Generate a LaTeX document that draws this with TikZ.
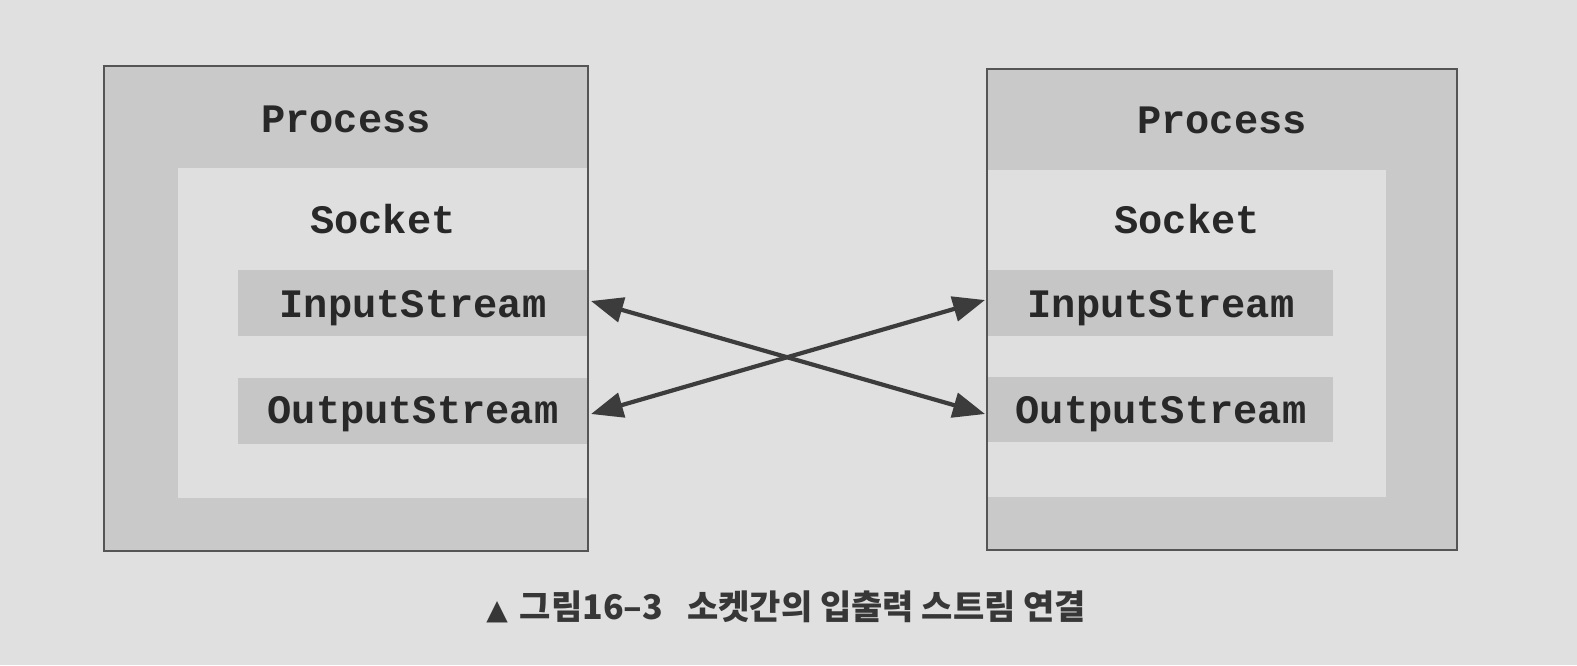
\documentclass[tikz,border=0pt]{standalone}
\usepackage{fontspec}
\setmonofont{Liberation Mono}
\newfontfamily\krfont{Noto Sans CJK KR}
\newfontfamily\symfont{DejaVu Sans}
\usetikzlibrary{arrows.meta}
\definecolor{page}{RGB}{224,224,224}
\definecolor{procfill}{RGB}{201,201,201}
\definecolor{sockfill}{RGB}{223,223,223}
\definecolor{bandfill}{RGB}{198,198,198}
\definecolor{edge}{RGB}{85,85,85}
\definecolor{ink}{RGB}{40,40,40}
\definecolor{arrowcol}{RGB}{60,60,60}
\definecolor{capcol}{RGB}{55,55,55}
\tikzset{
  procbox/.style={fill=procfill, draw=none, inner sep=0pt, outer sep=0pt},
  sockbox/.style={fill=sockfill, draw=none, inner sep=0pt, outer sep=0pt},
  bandbox/.style={fill=bandfill, draw=none, inner sep=0pt, outer sep=0pt},
  boxedge/.style={draw=edge, line width=0.8pt},
  lbl/.style={text=ink, inner sep=0pt, anchor=base, font=\fontsize{20.2pt}{24pt}\ttfamily\bfseries},
  conn/.style={draw=arrowcol, line width=2.1pt,
    {Triangle[length=16pt,width=12.5pt]}-{Triangle[length=16pt,width=12.5pt]}},
  captext/.style={text=capcol, inner sep=0pt, anchor=base west, font=\fontsize{17pt}{20pt}\krfont\bfseries}
}
\begin{document}
\begin{tikzpicture}[x=0.5pt,y=-0.5pt]
\useasboundingbox (0,0) rectangle (1577,665);
\fill[page] (0,0) rectangle (1577,665);

% left process
\node[procbox, minimum width=242pt, minimum height=242.5pt] (lproc) at (346,308.5) {};
\node[sockbox, minimum width=205pt, minimum height=165pt] (lsock) at (383,333) {};
\node[bandbox, minimum width=175pt, minimum height=33pt] (lin) at (413,303) {};
\node[bandbox, minimum width=175pt, minimum height=33pt] (lout) at (413,411) {};
\draw[boxedge] (lproc.south west) rectangle (lproc.north east);
\node[lbl] (lproct) at (346,132) {Process};
\node[lbl] (lsockt) at (383,233) {Socket};
\node[lbl] (lint) at (413,317) {InputStream};
\node[lbl] (loutt) at (413,423) {OutputStream};

% right process
\node[procbox, minimum width=235pt, minimum height=240.5pt] (rproc) at (1222,309.5) {};
\node[sockbox, minimum width=199.5pt, minimum height=163.5pt] (rsock) at (1186.5,333.5) {};
\node[bandbox, minimum width=173pt, minimum height=33pt] (rin) at (1160,303) {};
\node[bandbox, minimum width=173pt, minimum height=32.5pt] (rout) at (1160,409.5) {};
\draw[boxedge] (rproc.south west) rectangle (rproc.north east);
\node[lbl] (rproct) at (1222,133) {Process};
\node[lbl] (rsockt) at (1187,233) {Socket};
\node[lbl] (rint) at (1161,317) {InputStream};
\node[lbl] (routt) at (1161,423) {OutputStream};

% connectors
\coordinate (a1) at (591,301);
\coordinate (a2) at (591,414);
\coordinate (b1) at (985,300);
\coordinate (b2) at (985,414);
\draw[conn] (a1) -- (b2);
\draw[conn] (a2) -- (b1);

% caption
\node[captext] (cap) at (486,619) {{\symfont\fontsize{14pt}{16pt}\selectfont ▲}\hspace{6pt}그림16–3\hspace{12pt}소켓간의 입출력 스트림 연결};
\end{tikzpicture}
\end{document}
